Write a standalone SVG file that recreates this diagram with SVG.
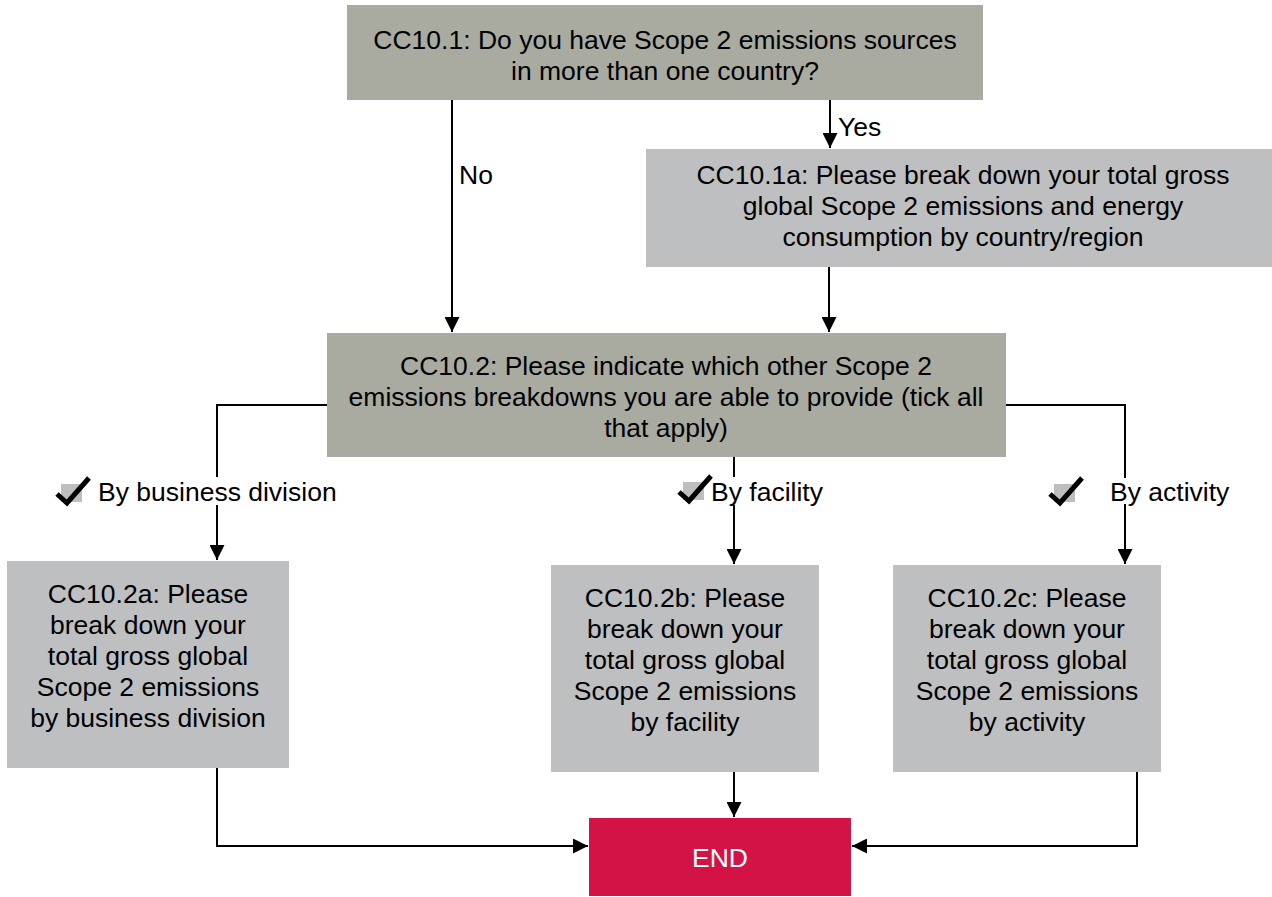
<svg xmlns="http://www.w3.org/2000/svg" width="1272" height="897" viewBox="0 0 1272 897">
  <defs>
    <marker id="arrow" viewBox="0 0 10 10" refX="10" refY="5" markerWidth="15" markerHeight="15" markerUnits="userSpaceOnUse" orient="auto">
      <path d="M0,0 L10,5 L0,10 Z" fill="#000"/>
    </marker>
    <g id="tick">
      <rect x="4" y="-1" width="21" height="18" fill="#BEBEBE"/>
      <path d="M0,9 L10,18 L32,-7" fill="none" stroke="#000" stroke-width="5" stroke-linejoin="miter"/>
    </g>
  </defs>
  <style>
    text { font-family: "Liberation Sans", Arial, sans-serif; font-size: 26.5px; fill: #000; }
    .c { text-anchor: middle; }
    .q { fill: #A9ABA1; }
    .a { fill: #BEBFC1; }
    .end { fill: #D31245; }
    .end-t { fill: #fff; }
    .ln { fill: none; stroke: #000; stroke-width: 2; }
  </style>
  <rect width="1272" height="897" fill="#fff"/>

  <!-- connectors -->
  <g id="connectors">
    <path class="ln" d="M452,100 V332" marker-end="url(#arrow)"/>
    <path class="ln" d="M830,100 V148" marker-end="url(#arrow)"/>
    <path class="ln" d="M829,267 V332" marker-end="url(#arrow)"/>
    <path class="ln" d="M327,405 H217 V560" marker-end="url(#arrow)"/>
    <path class="ln" d="M734,457 V564" marker-end="url(#arrow)"/>
    <path class="ln" d="M1006,405 H1125 V564" marker-end="url(#arrow)"/>
    <path class="ln" d="M217,768 V846 H588" marker-end="url(#arrow)"/>
    <path class="ln" d="M734,772 V817" marker-end="url(#arrow)"/>
    <path class="ln" d="M1137,772 V846 H852" marker-end="url(#arrow)"/>
    <text x="459" y="184">No</text>
    <text x="838" y="136">Yes</text>
    <!-- option labels -->
    <rect x="95" y="477" width="245" height="28" fill="#fff"/>
    <use href="#tick" x="57" y="485"/>
    <text x="98" y="501">By business division</text>
    <rect x="708" y="477" width="120" height="28" fill="#fff"/>
    <use href="#tick" x="679" y="483"/>
    <text x="711" y="501">By facility</text>
    <rect x="1105" y="478" width="130" height="26" fill="#fff"/>
    <use href="#tick" x="1050" y="485"/>
    <text x="1110" y="501">By activity</text>
  </g>

  <g id="cc10-1">
    <rect class="q" x="347" y="5" width="636" height="95"/>
    <text class="c" x="665" y="49">CC10.1: Do you have Scope 2 emissions sources</text>
    <text class="c" x="665" y="80">in more than one country?</text>
  </g>

  <g id="cc10-1a">
    <rect class="a" x="646" y="149" width="626" height="118"/>
    <text class="c" x="963" y="184">CC10.1a: Please break down your total gross</text>
    <text class="c" x="963" y="215">global Scope 2 emissions and energy</text>
    <text class="c" x="963" y="246">consumption by country/region</text>
  </g>

  <g id="cc10-2">
    <rect class="q" x="327" y="333" width="679" height="124"/>
    <text class="c" x="666" y="375">CC10.2: Please indicate which other Scope 2</text>
    <text class="c" x="666" y="406">emissions breakdowns you are able to provide (tick all</text>
    <text class="c" x="666" y="437">that apply)</text>
  </g>

  <g id="cc10-2a">
    <rect class="a" x="7" y="561" width="282" height="207"/>
    <text class="c" x="148" y="603">CC10.2a: Please</text>
    <text class="c" x="148" y="634">break down your</text>
    <text class="c" x="148" y="665">total gross global</text>
    <text class="c" x="148" y="696">Scope 2 emissions</text>
    <text class="c" x="148" y="727">by business division</text>
  </g>

  <g id="cc10-2b">
    <rect class="a" x="551" y="565" width="268" height="207"/>
    <text class="c" x="685" y="607">CC10.2b: Please</text>
    <text class="c" x="685" y="638">break down your</text>
    <text class="c" x="685" y="669">total gross global</text>
    <text class="c" x="685" y="700">Scope 2 emissions</text>
    <text class="c" x="685" y="731">by facility</text>
  </g>

  <g id="cc10-2c">
    <rect class="a" x="893" y="565" width="268" height="207"/>
    <text class="c" x="1027" y="607">CC10.2c: Please</text>
    <text class="c" x="1027" y="638">break down your</text>
    <text class="c" x="1027" y="669">total gross global</text>
    <text class="c" x="1027" y="700">Scope 2 emissions</text>
    <text class="c" x="1027" y="731">by activity</text>
  </g>

  <g id="end">
    <rect class="end" x="589" y="818" width="262" height="78"/>
    <text class="c end-t" x="720" y="867">END</text>
  </g>
</svg>
